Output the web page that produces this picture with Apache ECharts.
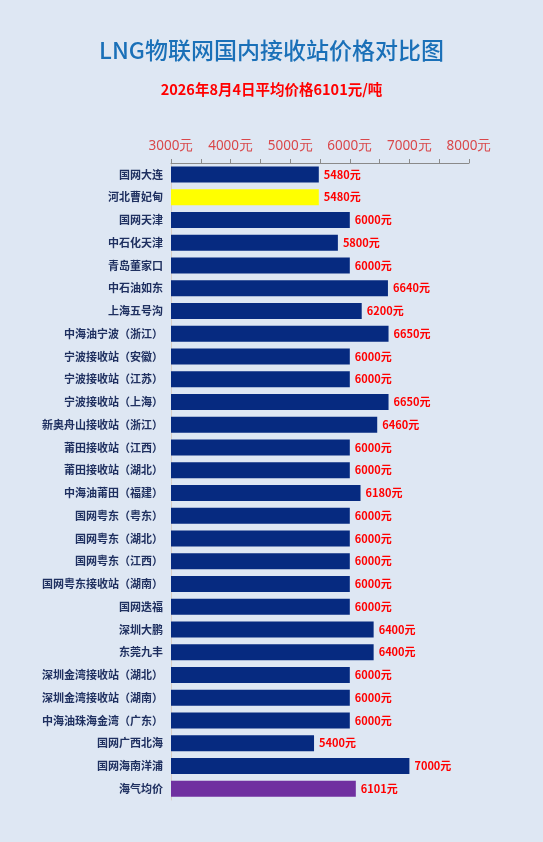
<!DOCTYPE html>
<html lang="zh-CN">

<head>
    <meta charset="UTF-8">
    <title>LNG物联网国内接收站价格对比图</title>
    <script src="https://cdn.jsdelivr.net/npm/echarts@6/dist/echarts.min.js"></script>
    <style>
        html, body { margin: 0; padding: 0; background: #dee7f3; }
    </style>
</head>

<body>
    <div id="main" style="width: 543px;height:842px;"></div>
    <script>
        // 数据
        const stations = ['国网大连', '河北曹妃甸', '国网天津', '中石化天津', '青岛董家口', '中石油如东', '上海五号沟',
            '中海油宁波（浙江）', '宁波接收站（安徽）', '宁波接收站（江苏）', '宁波接收站（上海）', '新奥舟山接收站（浙江）',
            '莆田接收站（江西）', '莆田接收站（湖北）', '中海油莆田（福建）', '国网粤东（粤东）', '国网粤东（湖北）',
            '国网粤东（江西）', '国网粤东接收站（湖南）', '国网迭福', '深圳大鹏', '东莞九丰', '深圳金湾接收站（湖北）',
            '深圳金湾接收站（湖南）', '中海油珠海金湾（广东）', '国网广西北海', '国网海南洋浦', '海气均价'];
        const prices = [5480, 5480, 6000, 5800, 6000, 6640, 6200,
            6650, 6000, 6000, 6650, 6460,
            6000, 6000, 6180, 6000, 6000,
            6000, 6000, 6000, 6400, 6400, 6000,
            6000, 6000, 5400, 7000, 6101];
        const axisMin = 3000;
        const axisMax = 8000;

        const myChart = echarts.init(document.getElementById('main'));

        function barColor(name) {
            if (name === '河北曹妃甸') return '#ffff00';
            if (name === '海气均价') return '#7030a0';
            return '#062a80';
        }

        const option = {
            backgroundColor: '#dee7f3',
            title: [
                {
                    text: 'LNG物联网国内接收站价格对比图',
                    left: 'center',
                    top: 34,
                    textStyle: { color: '#1a70b8', fontSize: 23, fontWeight: 500, fontFamily: 'Noto Sans CJK SC' }
                },
                {
                    text: '2026年8月4日平均价格6101元/吨',
                    left: 'center',
                    top: 77,
                    textStyle: { color: '#ff0000', fontSize: 14.5, fontWeight: 'bold', fontFamily: 'Noto Sans CJK SC' }
                }
            ],
            grid: { left: 171, right: 74, top: 163, bottom: 42, containLabel: false },
            xAxis: {
                type: 'value',
                position: 'top',
                min: axisMin,
                max: axisMax,
                interval: 500,
                axisLine: { show: true, lineStyle: { color: '#8a8a8a', width: 1 } },
                axisTick: { show: true, length: 4, lineStyle: { color: '#8a8a8a' } },
                splitLine: { show: false },
                axisLabel: {
                    color: '#d9474a',
                    fontSize: 13.5,
                    fontFamily: 'Noto Sans',
                    margin: 10,
                    formatter: function (v) { return v % 1000 === 0 ? v + '元' : ''; }
                }
            },
            yAxis: {
                type: 'category',
                data: stations,
                inverse: true,
                axisLine: { show: true, lineStyle: { color: '#d8cfc8', width: 1 } },
                axisTick: { show: false },
                axisLabel: {
                    color: '#1f3060',
                    fontSize: 11,
                    fontWeight: 'bold',
                    fontFamily: 'Noto Sans CJK SC',
                    margin: 8
                }
            },
            series: [
                {
                    type: 'bar',
                    data: prices,
                    barWidth: 16,
                    itemStyle: {
                        color: function (p) { return barColor(p.name); }
                    },
                    label: {
                        show: true,
                        position: 'right',
                        distance: 5,
                        color: '#ff0000',
                        fontSize: 11,
                        fontWeight: 'bold',
                        fontFamily: 'Noto Sans CJK SC',
                        formatter: '{c}元'
                    }
                }
            ]
        };
        myChart.setOption(option);
    </script>
</body>

</html>
